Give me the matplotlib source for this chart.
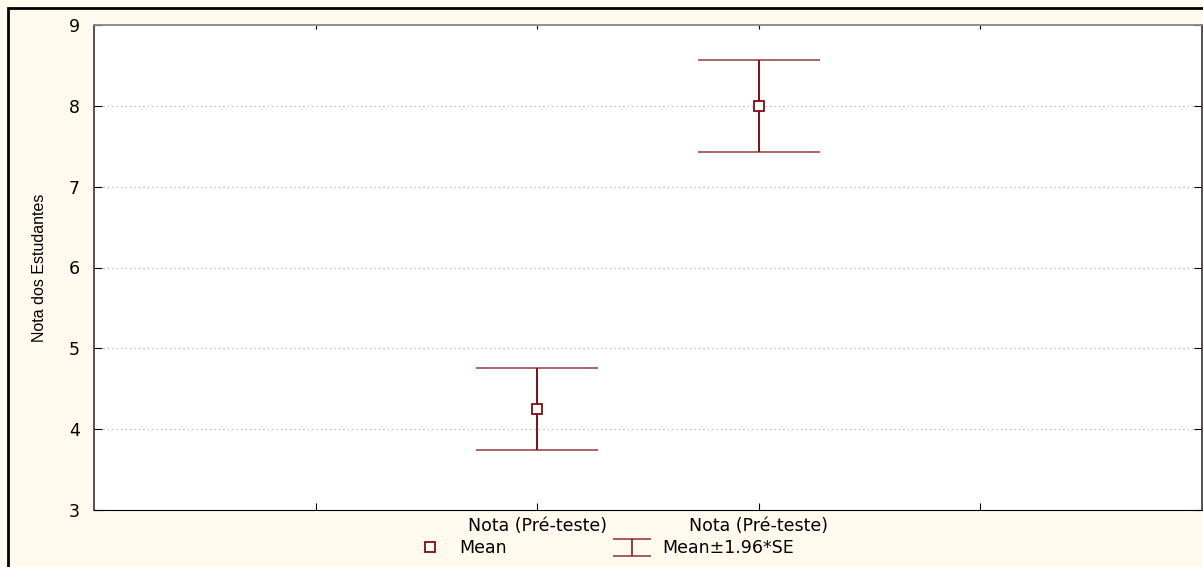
import math
import matplotlib.pyplot as plt
from matplotlib.patches import Rectangle

# data
groups = ["Nota (Pré-teste)", "Nota (Pré-teste)"]
positions = [1, 2]
means = [4.25, 8.0]
lower = [3.74, 7.43]
upper = [4.76, 8.57]

dark_red = "#7f0d12"
bg = "#fff9ee"

plt.rcParams["font.family"] = ["DejaVu Sans"]

fig = plt.figure(figsize=(12.03, 5.67), dpi=100, facecolor=bg)
ax = fig.add_axes([94 / 1203, 1 - 510 / 567, 1108 / 1203, 485 / 567])
ax.set_facecolor("white")

yerr = [[m - lo for m, lo in zip(means, lower)], [hi - m for m, hi in zip(means, upper)]]
eb = ax.errorbar(positions, means, yerr=yerr, fmt="none", ecolor=dark_red,
                 elinewidth=1.4, capsize=44, capthick=1.2, zorder=3)
for cap in eb[1]:
    cap.set_alpha(0.75)
ax.plot(positions, means, "s", mfc="white", mec=dark_red, ms=7, mew=1.3,
        linestyle="none", label="Mean", zorder=4)
# proxy with small caps, used only for the legend
ax.errorbar([math.nan], [math.nan], yerr=[0.5], fmt="none", ecolor=dark_red,
            elinewidth=1.4, capsize=14, capthick=1.2, alpha=0.8, label="Mean±1.96*SE")

ax.set_xlim(-1, 4)
ax.set_ylim(3, 9)
ax.set_xticks([0, 1, 2, 3])
ax.set_xticklabels(["", groups[0], groups[1], ""], fontsize=12.5)
ax.set_yticks(range(3, 10))
ax.tick_params(axis="y", labelsize=12.5, direction="in", length=6, right=True, pad=10)
ax.tick_params(axis="x", direction="in", length=5, pad=5)
ax.tick_params(axis="x", which="major", top=True)
for t in ax.xaxis.get_major_ticks():
    t.tick2line.set_markersize(3)
ax.grid(axis="y", linestyle=(0, (1, 3)), color="#aaaaaa", linewidth=0.8)

ax.spines["left"].set_color("#444444")
ax.spines["right"].set_color("#444444")
ax.spines["top"].set_color("#888888")
for side in ["left", "top", "right"]:
    ax.spines[side].set_linewidth(1.3)
ax.spines["bottom"].set_color("black")

ax.set_ylabel("Nota dos Estudantes", fontsize=11.5, family=["Liberation Sans Narrow", "Liberation Sans"],
              labelpad=16)

handles, labels = ax.get_legend_handles_labels()
fig.legend(handles, labels, loc="center", bbox_to_anchor=(0.500, 0.033),
           ncol=2, frameon=False, fontsize=12.5, columnspacing=6.0,
           handlelength=2.4, handletextpad=0.5)

# outer frame around the figure
fig.add_artist(Rectangle((8 / 1203, -0.1), 2, 1.1 - 8 / 567, transform=fig.transFigure,
                         fill=False, edgecolor="black", linewidth=2, clip_on=False))

fig.savefig("out.png", dpi=100, facecolor=bg)
